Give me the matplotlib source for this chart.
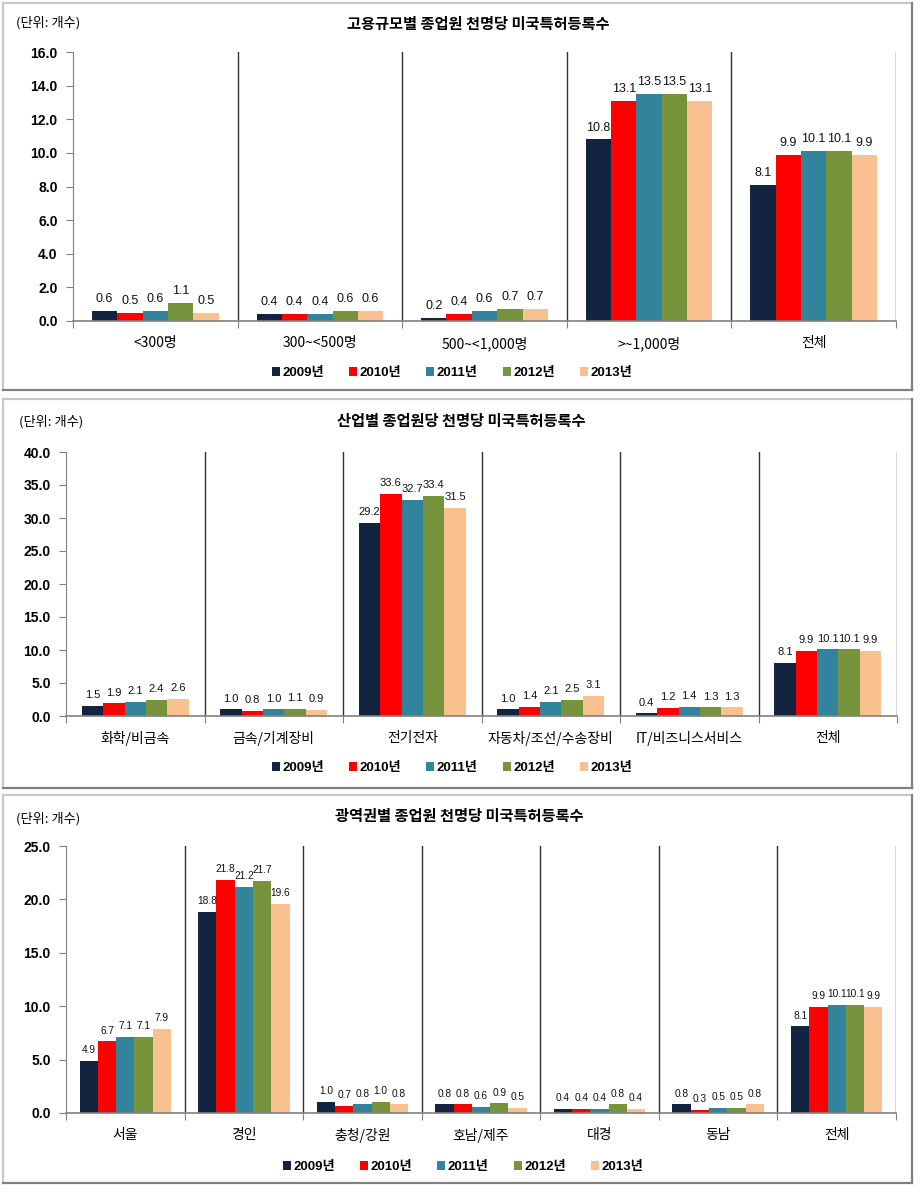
import numpy as np
import matplotlib
matplotlib.use("Agg")
import matplotlib.pyplot as plt
from matplotlib.patches import Patch

W, H = 924, 1194

years = ["2009년", "2010년", "2011년", "2012년", "2013년"]
colors = ["#12243f", "#ff0000", "#31849b", "#77933c", "#f9c090"]

# panel 1: by employment size
size_cats = ["<300명", "300~<500명", "500~<1,000명", ">~1,000명", "전체"]
size_2009 = [0.6, 0.4, 0.2, 10.8, 8.1]
size_2010 = [0.5, 0.4, 0.4, 13.1, 9.9]
size_2011 = [0.6, 0.4, 0.6, 13.5, 10.1]
size_2012 = [1.1, 0.6, 0.7, 13.5, 10.1]
size_2013 = [0.5, 0.6, 0.7, 13.1, 9.9]

# panel 2: by industry
ind_cats = ["화학/비금속", "금속/기계장비", "전기전자", "자동차/조선/수송장비", "IT/비즈니스서비스", "전체"]
ind_2009 = [1.5, 1.0, 29.2, 1.0, 0.4, 8.1]
ind_2010 = [1.9, 0.8, 33.6, 1.4, 1.2, 9.9]
ind_2011 = [2.1, 1.0, 32.7, 2.1, 1.4, 10.1]
ind_2012 = [2.4, 1.1, 33.4, 2.5, 1.3, 10.1]
ind_2013 = [2.6, 0.9, 31.5, 3.1, 1.3, 9.9]

# panel 3: by region
reg_cats = ["서울", "경인", "충청/강원", "호남/제주", "대경", "동남", "전체"]
reg_2009 = [4.9, 18.8, 1.0, 0.8, 0.4, 0.8, 8.1]
reg_2010 = [6.7, 21.8, 0.7, 0.8, 0.4, 0.3, 9.9]
reg_2011 = [7.1, 21.2, 0.8, 0.6, 0.4, 0.5, 10.1]
reg_2012 = [7.1, 21.7, 1.0, 0.9, 0.8, 0.5, 10.1]
reg_2013 = [7.9, 19.6, 0.8, 0.5, 0.4, 0.8, 9.9]

KR = ["Noto Sans CJK KR", "DejaVu Sans"]
NUM = ["Liberation Sans Narrow", "Liberation Sans", "DejaVu Sans"]
LEG = ["Liberation Sans", "Noto Sans CJK KR", "DejaVu Sans"]

fig = plt.figure(figsize=(W / 100, H / 100), dpi=100)


def fx(px):
    return px / W


def fy(py):
    return 1 - py / H


def panel_border(top, bottom, left=3, right=912):
    # light top/left, darker bottom/right like the source
    fig.add_artist(plt.Line2D([fx(left), fx(right)], [fy(top), fy(top)], color="#c8c8c8", lw=1.6))
    fig.add_artist(plt.Line2D([fx(left), fx(left)], [fy(top), fy(bottom)], color="#c8c8c8", lw=1.6))
    fig.add_artist(plt.Line2D([fx(left), fx(right)], [fy(bottom), fy(bottom)], color="#808080", lw=1.6))
    fig.add_artist(plt.Line2D([fx(right), fx(right)], [fy(top), fy(bottom)], color="#808080", lw=1.6))


def draw_panel(box, cats, series, ymax, ystep, title, title_xy, unit_xy, leg_xy, label_fs):
    left, top, right, bottom = box
    ax = fig.add_axes([fx(left), fy(bottom), fx(right) - fx(left), (bottom - top) / H])
    n = len(cats)
    x = np.arange(n)
    group = 0.77
    bw = group / len(series)
    for k, vals in enumerate(series):
        pos = x - group / 2 + bw * (k + 0.5)
        ax.bar(pos, vals, width=bw, color=colors[k], label=years[k], linewidth=0)
        for p, v in zip(pos, vals):
            ax.text(p, v + ymax * 0.022, "%.1f" % v, ha="center", va="bottom",
                    fontsize=label_fs, family=NUM, color="#111111")

    ax.set_xlim(-0.5, n - 0.5)
    ax.set_ylim(0, ymax)
    for b in np.arange(n) + 0.5:
        ax.axvline(b, color="#303030", lw=1.0)

    ticks = np.arange(0, ymax + ystep / 2, ystep)
    ax.set_yticks(ticks)
    ax.set_yticklabels(["%.1f" % t for t in ticks],
                       fontsize=10, fontweight="bold", family=["Liberation Sans", "DejaVu Sans"])
    ax.tick_params(axis="y", direction="out", length=5, color="#808080", pad=6)

    ax.set_xticks(np.arange(-0.5, n, 1.0))
    ax.set_xticklabels([])
    ax.tick_params(axis="x", which="major", direction="out", length=5, color="#808080")
    ax.set_xticks(x, minor=True)
    ax.set_xticklabels(cats, minor=True, fontsize=10, family=KR)
    ax.tick_params(axis="x", which="minor", length=0, pad=11)

    for s in ["top", "right"]:
        ax.spines[s].set_visible(False)
    ax.spines["left"].set_color("#808080")
    ax.spines["bottom"].set_color("#808080")
    ax.spines["bottom"].set_linewidth(1.2)

    fig.text(fx(title_xy[0]), fy(title_xy[1]), title, ha="center", va="center",
             fontsize=11, fontweight="bold", family=KR)
    fig.text(fx(unit_xy[0]), fy(unit_xy[1]), "(단위: 개수)", ha="left", va="center",
             fontsize=9.5, family=KR)

    handles = [Patch(facecolor=c, edgecolor="none") for c in colors]
    fig.legend(handles, years, loc="center", bbox_to_anchor=(fx(leg_xy[0]), fy(leg_xy[1])),
               ncol=5, frameon=False, handlelength=0.6, handleheight=0.6, handletextpad=0.2,
               columnspacing=1.9, prop={"family": LEG, "size": 9.5, "weight": "bold"})
    return ax


panel_border(3, 390)
draw_panel((73, 52, 896, 321), size_cats,
           [size_2009, size_2010, size_2011, size_2012, size_2013],
           16, 2, "고용규모별 종업원 천명당 미국특허등록수", (478, 24), (16, 23), (452, 373), 9)

panel_border(399, 788)
draw_panel((66, 452, 897, 716), ind_cats,
           [ind_2009, ind_2010, ind_2011, ind_2012, ind_2013],
           40, 5, "산업별 종업원당 천명당 미국특허등록수", (461, 421), (19, 422), (452, 768), 8)

panel_border(795, 1183)
draw_panel((66, 846, 896, 1113), reg_cats,
           [reg_2009, reg_2010, reg_2011, reg_2012, reg_2013],
           25, 5, "광역권별 종업원 천명당 미국특허등록수", (459, 816), (16, 819), (463, 1167), 7.3)

fig.savefig("out.png", dpi=100)
